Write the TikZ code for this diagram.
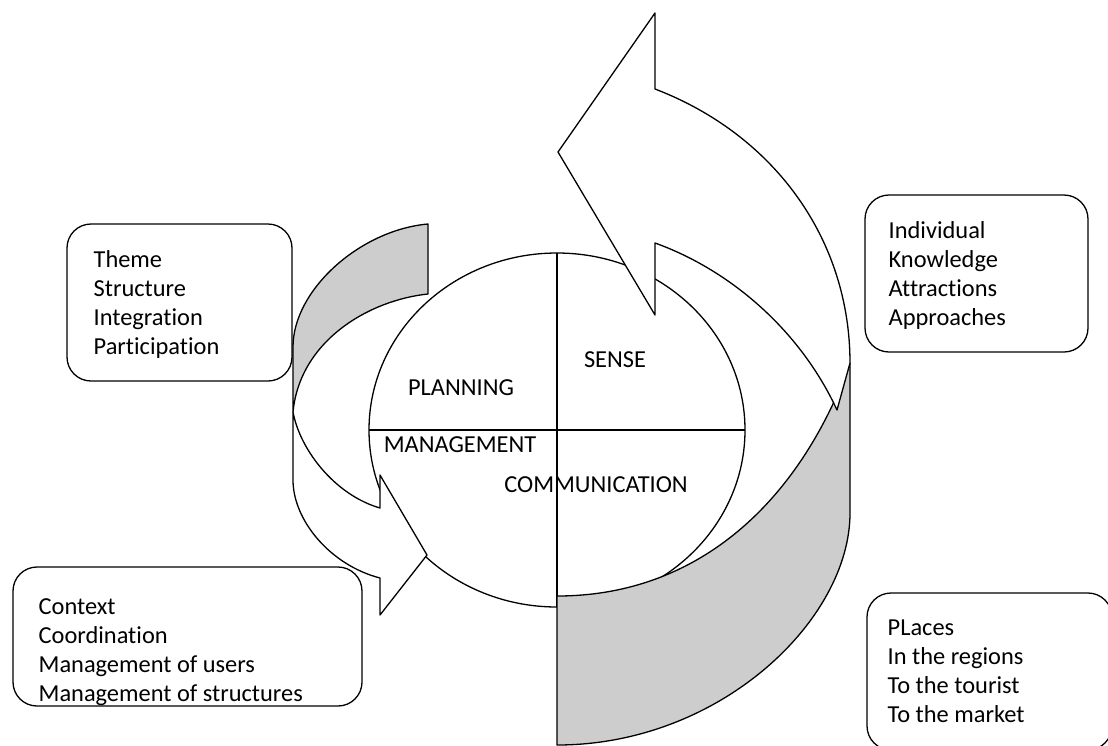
\documentclass[tikz,border=0pt]{standalone}
\usepackage{fontspec}
\setmainfont{Carlito}[Ligatures=NoCommon]
\usetikzlibrary{calc}
\definecolor{backgray}{RGB}{205,205,205}

\begin{document}
\begin{tikzpicture}[x=0.5pt, y=-0.5pt, line width=0.65pt,
    itembox/.style={draw, rounded corners=12pt},
    backband/.style={draw, fill=backgray, line join=round},
    frontband/.style={draw, fill=white, line join=round},
    itemlist/.style={align=left, inner sep=0pt, anchor=north west, font=\fontsize{12.2}{14.4}\selectfont},
    quarter/.style={inner sep=0pt, anchor=base, font=\fontsize{12.2}{14.4}\selectfont}]
    \useasboundingbox (0,0) rectangle (1108,745);

    \draw[itembox] (67,224) rectangle (292,381);
    \draw[itembox] (865,195) rectangle (1088,352);
    \draw[itembox] (13,567) rectangle (362,706);
    \draw[itembox] (867,593) rectangle (1112,750);

    \node[itemlist] (aims) at (93,250) {Theme\\Structure\\Integration\\Participation};
    \node[itemlist] (visitors) at (888,221) {Individual\\Knowledge\\Attractions\\Approaches};
    \node[itemlist] (control) at (38,598.5) {Context\\Coordination\\Management of users\\Management of structures};
    \node[itemlist] (targets) at (887,619.5) {PLaces\\In the regions\\To the tourist\\To the market};

    \coordinate (hub) at (557,430);
    \coordinate (N) at ($ (hub)+(0,-177) $);
    \coordinate (S) at ($ (hub)+(0,177) $);
    \coordinate (W) at ($ (hub)+(-188,0) $);
    \coordinate (E) at ($ (hub)+(188,0) $);
    \draw (hub) ellipse [x radius=188, y radius=177];
    \draw (W) -- (E);
    \draw (N) -- (S);

    \node[quarter] (planning) at (461,395) {PLANNING};
    \node[quarter] (sense) at (615,367) {SENSE};
    \node[quarter] (management) at (460,452) {MANAGEMENT};
    \node[quarter] (communication) at (596,492) {COMMUNICATION};

    \coordinate (tip) at (558,152);
    \coordinate (headtop) at (655,13);
    \coordinate (headback) at (655,89);
    \coordinate (headlow) at (655,315);
    \coordinate (neck) at (655,243);
    \coordinate (rim) at (850,363);
    \coordinate (rimlow) at (850,513);
    \coordinate (fold) at (837,410);
    \coordinate (tailtop) at (557,596);
    \coordinate (tailbot) at (557,745);
    \draw[backband] (tailtop) .. controls (700,596) and (800,500) .. (rim) -- (rimlow)
        .. controls (850,620) and (720,745) .. (tailbot) -- cycle;
    \draw[frontband] (rim) .. controls (850,240) and (775,135) .. (headback) -- (headtop) -- (tip)
        -- (headlow) -- (neck) .. controls (730,270) and (800,330) .. (fold) -- cycle;

    \coordinate (ltailtop) at (428,224);
    \coordinate (ltailbot) at (428,294);
    \coordinate (lrim) at (293,347);
    \coordinate (lpinch) at (293,412);
    \coordinate (lrimlow) at (293,480);
    \coordinate (lheadback) at (380,578);
    \coordinate (lheadbot) at (380,615);
    \coordinate (ltip) at (427,555);
    \coordinate (lheadup) at (380,475);
    \coordinate (lneck) at (380,508);
    \draw[backband] (ltailtop) .. controls (360,230) and (293,290) .. (lrim) -- (lpinch)
        .. controls (300,340) and (370,300) .. (ltailbot) -- cycle;
    \draw[frontband] (lpinch) -- (lrimlow) .. controls (293,520) and (330,565) .. (lheadback)
        -- (lheadbot) -- (ltip) -- (lheadup) -- (lneck) .. controls (335,495) and (300,450) .. (lpinch) -- cycle;
\end{tikzpicture}
\end{document}
